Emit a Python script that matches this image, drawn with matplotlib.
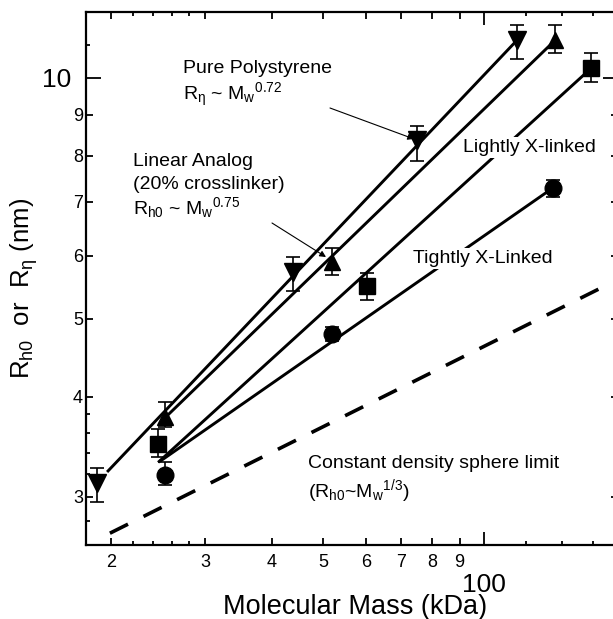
import numpy as np
import matplotlib
matplotlib.use('Agg')
import matplotlib.pyplot as plt
from matplotlib.ticker import FixedLocator, FixedFormatter

plt.rcParams['font.family'] = ['Liberation Sans', 'DejaVu Sans']
plt.rcParams['mathtext.fontset'] = 'custom'
plt.rcParams['mathtext.rm'] = 'Liberation Sans'
plt.rcParams['mathtext.it'] = 'Liberation Sans'
plt.rcParams['mathtext.default'] = 'regular'

# ---------------- data ----------------
ps_mass = [18.8, 43.8, 74.9, 115.3]          # Pure polystyrene (R_eta)
ps_r = [3.12, 5.73, 8.37, 11.15]
ps_lo = [0.17, 0.31, 0.49, 0.59]
ps_hi = [0.14, 0.25, 0.34, 0.49]

la_mass = [25.25, 51.9, 135.9]               # Linear analog
la_r = [3.77, 5.89, 11.15]
la_lo = [0.11, 0.21, 0.40]
la_hi = [0.17, 0.25, 0.49]

lx_mass = [24.5, 60.4, 158.7]                # Lightly X-linked
lx_r = [3.49, 5.50, 10.29]
lx_lo = [0.13, 0.22, 0.40]
lx_hi = [0.15, 0.21, 0.46]

tx_mass = [25.25, 51.9, 134.6]               # Tightly X-linked
tx_r = [3.19, 4.79, 7.29]
tx_lo = [0.09, 0.10, 0.19]
tx_hi = [0.12, 0.10, 0.16]

# fit lines (end points)
ps_fit_m = [19.66, 115.3]
ps_fit_r = [3.22, 11.15]
la_fit_m = [25.0, 135.9]
la_fit_r = [3.74, 11.15]
lx_fit_m = [24.5, 157.3]
lx_fit_r = [3.31, 10.23]
tx_fit_m = [24.7, 134.6]
tx_fit_r = [3.32, 7.29]
sphere_m = [19.9, 178.0]
sphere_r = [2.70, 5.60]

# ticks
x_major = [100]
x_major_labels = ['100']
x_minor = [20, 22, 24, 26, 28, 30, 40, 50, 60, 70, 80, 90, 120, 140, 160]
x_minor_labels = ['2', '', '', '', '', '3', '4', '5', '6', '7', '8', '9', '', '', '']
y_major = [10]
y_major_labels = ['10']
y_minor = [2.8, 3, 3.2, 3.4, 3.6, 3.8, 4, 5, 6, 7, 8, 9, 11]
y_minor_labels = ['', '3', '', '', '', '', '4', '5', '6', '7', '8', '9', '']

# ---------------- figure ----------------
W, H = 613, 619
fig = plt.figure(figsize=(W / 100, H / 100), dpi=100)
ax = fig.add_axes([86 / W, 1 - 545 / H, (618 - 86) / W, (545 - 12) / H])
ax.set_xscale('log')
ax.set_yscale('log')
ax.set_xlim(17.95, 178.2)
ax.set_ylim(2.61, 12.09)

lw_fit = 2.1
for m, r in [(ps_fit_m, ps_fit_r), (la_fit_m, la_fit_r), (lx_fit_m, lx_fit_r), (tx_fit_m, tx_fit_r)]:
    ax.plot(m, r, color='black', lw=lw_fit, solid_capstyle='butt', zorder=2)
ln, = ax.plot(sphere_m, sphere_r, color='black', lw=2.6, zorder=2)
ln.set_dashes((5.6, 4.8))
ln.set_dash_capstyle('butt')

eb = dict(color='black', ecolor='black', elinewidth=1.2, capsize=4.7, capthick=1.2, zorder=4, ls='none')
ax.errorbar(ps_mass, ps_r, yerr=[ps_lo, ps_hi], marker='v', ms=12.5, **eb)
ax.errorbar(la_mass, la_r, yerr=[la_lo, la_hi], marker='^', ms=11.5, **eb)
ax.errorbar(lx_mass, lx_r, yerr=[lx_lo, lx_hi], marker='s', ms=11.5, **eb)
ax.errorbar(tx_mass, tx_r, yerr=[tx_lo, tx_hi], marker='o', ms=12, **eb)

for s in ax.spines.values():
    s.set_linewidth(1.6)

ax.xaxis.set_major_locator(FixedLocator(x_major))
ax.xaxis.set_major_formatter(FixedFormatter(x_major_labels))
ax.xaxis.set_minor_locator(FixedLocator(x_minor))
ax.xaxis.set_minor_formatter(FixedFormatter(x_minor_labels))
ax.yaxis.set_major_locator(FixedLocator(y_major))
ax.yaxis.set_major_formatter(FixedFormatter(y_major_labels))
ax.yaxis.set_minor_locator(FixedLocator(y_minor))
ax.yaxis.set_minor_formatter(FixedFormatter(y_minor_labels))

ax.tick_params(which='both', direction='in', top=True, right=True, width=1.3, color='black')
ax.tick_params(axis='x', which='major', length=9.5, labelsize=19, pad=20)
ax.tick_params(axis='x', which='minor', length=5, labelsize=13, pad=6.5)
ax.tick_params(axis='y', which='major', length=10.5, labelsize=19, pad=10.5)
ax.tick_params(axis='y', which='minor', length=5, labelsize=13, pad=2.2)

short = 3.0
xt = ax.xaxis.get_minor_ticks(len(x_minor))
for t, lab in zip(xt, x_minor_labels):
    if lab == '':
        t.tick1line.set_markersize(short)
        t.tick2line.set_markersize(short)
yt = ax.yaxis.get_minor_ticks(len(y_minor))
for t, lab in zip(yt, y_minor_labels):
    if lab == '':
        t.tick1line.set_markersize(short)
        t.tick2line.set_markersize(short)

# ---------------- texts ----------------
def ftext(x, y, s, **kw):
    fig.text(x / W, 1 - y / H, s, **kw)

fs = 14
ftext(183, 73, 'Pure Polystyrene', fontsize=fs, va='baseline')
ftext(183, 100, r'R$_{η}$ ~ M$_{w}{}^{0.72}$', fontsize=fs, va='baseline')
ftext(133, 166, 'Linear Analog', fontsize=fs, va='baseline')
ftext(133, 189, '(20% crosslinker)', fontsize=fs, va='baseline')
ftext(133, 214, r'R$_{h0}$ ~ M$_{w}{}^{0.75}$', fontsize=fs, va='baseline')
ftext(463, 152, 'Lightly X-linked', fontsize=fs, va='baseline',
      bbox=dict(facecolor='white', edgecolor='none', pad=1.5), zorder=3)
ftext(413, 263, 'Tightly X-Linked', fontsize=fs, va='baseline',
      bbox=dict(facecolor='white', edgecolor='none', pad=1.5), zorder=3)
ftext(308, 468, 'Constant density sphere limit', fontsize=fs, va='baseline')
ftext(308, 497, r'(R$_{h0}$~M$_{w}{}^{1/3}$)', fontsize=fs, va='baseline')

arrow = dict(arrowstyle='-|>', color='black', lw=0.8, mutation_scale=9, shrinkA=0, shrinkB=0)
fig.add_artist(matplotlib.patches.FancyArrowPatch((330 / W, 1 - 108 / H), (414 / W, 1 - 139 / H),
                                                  transform=fig.transFigure, **arrow))
fig.add_artist(matplotlib.patches.FancyArrowPatch((272 / W, 1 - 223 / H), (326 / W, 1 - 257 / H),
                                                  transform=fig.transFigure, **arrow))

ftext(24, 288, r'R$_{h0}$  or  R$_{η}$ (nm)', fontsize=18.5, rotation=90, ha='center', va='center')
ftext(355, 614, 'Molecular Mass (kDa)', fontsize=19.5, ha='center', va='baseline')

fig.savefig('out.png', dpi=100)
